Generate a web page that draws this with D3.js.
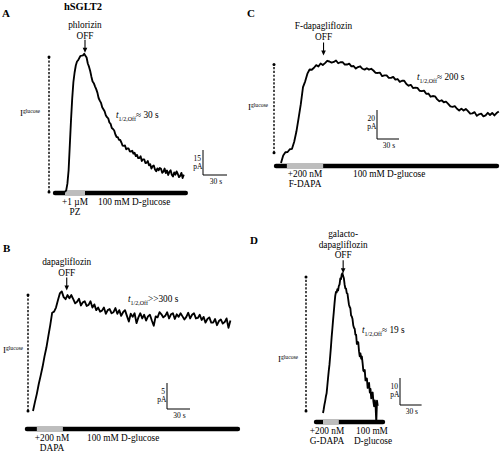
<!DOCTYPE html>
<html><head><meta charset="utf-8">
<script src="https://cdn.jsdelivr.net/npm/d3@7"></script>
<style>
body{margin:0;background:#fff}
svg{display:block}
text{font-family:"Liberation Serif","Times New Roman",serif;fill:#000}
</style>
</head><body>
<svg id="chart" width="500" height="452"></svg>
<script>
// ---------- DATA (current in pA above baseline, sampled every dt seconds) ----------
// Panel A: hSGLT2, phlorizin washout
const dtA = 1.5;
const currentA = [0, 1, 5, 13, 28, 43, 56, 66, 71.7, 75.9,
  78.3, 79.1, 80.5, 81.7, 81.8, 82, 82.9, 81.8, 80.7, 77.1,
  75.2, 72.6, 69.2, 66.3, 65.3, 63.4, 61.7, 59.6, 56.4, 54.8,
  53.5, 50.8, 49.6, 48.4, 46.1, 44.9, 44.2, 41.7, 40.9, 38.4,
  37.8, 36.9, 34.5, 33, 32.9, 31.3, 31.2, 29.7, 27.8, 27.7,
  27.9, 25.6, 26.1, 26.1, 24.4, 24.3, 24.8, 23, 23.5, 21.5,
  22.3, 20.3, 20.4, 21.4, 18.6, 19.6, 19.6, 17.4, 17.5, 18.6,
  16, 16.7, 14.1, 15.4, 15.9, 13.5, 12.4, 14.2, 13, 14.4,
  13.9, 11.5, 12.2, 14.1, 11.4, 12.9, 10.2, 12.1, 13, 10.4,
  9.3, 11.7, 10.4, 12.4, 10.8, 8.9, 9.7, 11.5, 8.4, 10.4];
const barA = [-12.5, 0, 25, 151];      // solution timeline (s): start, drug on, drug off, end
const offA = 25;                       // washout time (s)
const iglucA = [0, 81];                // I glucose span (pA)
const scaleA = [30, 15];               // scale bar: s, pA
const drugA = ["+1 µM", "PZ"];
const offLabelA = ["phlorizin", "OFF"];
const halfA = "≈ 30 s";

// Panel B: dapagliflozin
const dtB = 2.5;
const currentB = [0, 1.7, 3.3, 5.2, 6.8, 8.5, 10.5, 12.2, 14.4, 16.5,
  18.9, 19.1, 19.9, 21.3, 22.6, 23, 21.9, 21.5, 22.3, 21.7,
  22.3, 21.5, 20.7, 21, 21.6, 20.3, 20.9, 21.1, 20.2, 20.4,
  21.1, 19.9, 20.5, 19.4, 19.9, 19.1, 19.3, 19.9, 18.7, 19.4,
  19.6, 18.8, 19, 19.8, 18.7, 19.4, 18.3, 19, 19.4, 18.3,
  17.2, 18.7, 18.1, 18.8, 16.9, 18, 18.8, 17.8, 18.5, 17.4,
  18.2, 18.5, 17.4, 16.4, 18.2, 18, 19, 18.6, 18, 18.3,
  19, 17.8, 18.6, 18.8, 17.7, 18.6, 18.1, 18.8, 18.2, 17.6,
  18.1, 18.9, 17.8, 18.5, 18.8, 17.8, 17.9, 18.5, 17.5, 18.1,
  17, 17.7, 18, 17, 17, 17.7, 16.5, 17.3, 17.6, 16.8,
  17.1, 17.8, 16, 17.4];
const barB = [-7.9, 5, 39, 267.3];
const offB = 44;
const iglucB = [0, 22.3];
const scaleB = [30, 5];
const drugB = ["+200 nM", "DAPA"];
const offLabelB = ["dapagliflozin", "OFF"];
const halfB = ">>300 s";

// Panel C: F-dapagliflozin
const dtC = 3;
const currentC = [0, 5.1, 7.4, 7.6, 9.5, 9.8, 14.7, 21.7, 31, 40.6,
  52.3, 56.3, 61.6, 64.5, 64.3, 65.7, 67.5, 66.5, 68.6, 67.6,
  68.9, 70.5, 70, 69.2, 69.7, 70.7, 68.8, 69.5, 69.5, 67.9,
  67.9, 68.5, 66.6, 66.9, 65.1, 66.2, 66.7, 65, 64.4, 65.4,
  64.4, 65, 63.8, 62.2, 62.1, 62.3, 59.9, 60.4, 60.4, 58.7,
  58.7, 59.4, 57.5, 57.9, 56, 56.7, 56.7, 54.5, 53.3, 53.9,
  51.7, 52, 51.8, 49.8, 49.6, 49.9, 47.7, 47.9, 45.7, 46.2,
  46, 43.9, 42.6, 43.3, 41.9, 42.3, 40.8, 39, 38.7, 39.2,
  37.4, 36.2, 37.5, 36.2, 37.3, 35.8, 34, 34.2, 35.1, 32.5,
  33.6, 34, 32.2, 32.9, 34.6, 33.1, 34.5, 32.8, 34.4, 35.5];
const barC = [-6.8, 8, 57.5, 294.5];
const offC = 58;
const iglucC = [7, 68];
const scaleC = [30, 20];
const drugC = ["+200 nM", "F-DAPA"];
const offLabelC = ["F-dapagliflozin", "OFF"];
const halfC = "≈ 200 s";

// Panel D: galacto-dapagliflozin
const dtD = 1;
const currentD = [0, 1.4, 3.1, 4.4, 6.1, 7.3, 10.1, 12.9, 15.6, 17.9,
  21.1, 24.4, 28.1, 31.2, 34.5, 37.4, 40.6, 43.4, 44.8, 44.7,
  45.9, 45.4, 47.1, 47.6, 49.8, 49.6, 51.3, 51.8, 50.7, 49.9,
  47.6, 46.2, 46.1, 44.4, 44.2, 42.2, 40.2, 39.3, 38.8, 36.1,
  35.7, 34.8, 32.5, 31.6, 31.2, 29, 29, 25.6, 26.3, 26.2,
  22.9, 21, 22.1, 20.1, 20.9, 18.5, 15.7, 15.4, 15.9, 12.1,
  12.8, 12.7, 9.3, 9.6, 11.1, 7.6, 8.9, 5.4, 7.1, 7.6,
  4.2, 2.5, 4.7, 2.8, -3.5, 4.6, 2.6];
const barD = [-9.7, 0, 22, 83.3];
const offD = 28;
const iglucD = [0.7, 50.4];
const scaleD = [30, 10];
const drugD = ["+200 nM", "G-DAPA"];
const offLabelD = ["galacto-", "dapagliflozin", "OFF"];
const halfD = "≈ 19 s";

// ---------- LAYOUT ----------
const FS = 9.3;
const panels = [
  {letter: "A", lx: 2, ly: 17, dt: dtA, cur: currentA, bar: barA, off: offA, igl: iglucA, sc: scaleA,
   drug: drugA, offLab: offLabelA, half: halfA,
   x0: 65, pxs: 0.8, yb: 192, pxi: 25/15, barY: 193, dashX: 49, gap: 1,
   offLabY: 28, drugX: 75, drugY: 205, solX: 98, hx: 116, hy: 118,
   gl: [20, 116], sbX: 203, sbY: 175},
  {letter: "B", lx: 3, ly: 252, dt: dtB, cur: currentB, bar: barB, off: offB, igl: iglucB, sc: scaleB,
   drug: drugB, offLab: offLabelB, half: halfB,
   x0: 33, pxs: 23/30, yb: 411, pxi: 5.2, barY: 429, dashX: 28, gap: 1,
   offLabY: 265, drugX: 52, drugY: 441, solX: 87, hx: 128, hy: 302,
   gl: [3, 353], sbX: 167, sbY: 409},
  {letter: "C", lx: 247, ly: 17, dt: dtC, cur: currentC, bar: barC, off: offC, igl: iglucC, sc: scaleC,
   drug: drugC, offLab: offLabelC, half: halfC,
   x0: 281, pxs: 22/30, yb: 163, pxi: 1.45, barY: 166, dashX: 274, gap: 5,
   offLabY: 29, drugX: 305, drugY: 177, solX: 353, hx: 417, hy: 80,
   gl: [248, 110], sbX: 377, sbY: 139},
  {letter: "D", lx: 250, ly: 244, dt: dtD, cur: currentD, bar: barD, off: offD, igl: iglucD, sc: scaleD,
   drug: drugD, offLab: offLabelD, half: halfD,
   x0: 323, pxs: 0.72, yb: 413, pxi: 2.7, barY: 422, dashX: 306, gap: 0,
   offLabY: 237, drugX: 327, drugY: 434, solX: null, hx: 362, hy: 333,
   gl: [278, 362], sbX: 400, sbY: 405}
];

const svg = d3.select("#chart");

svg.append("text").attr("x", 83).attr("y", 10).attr("text-anchor", "middle")
  .attr("font-size", 10.5).attr("font-weight", "bold").text("hSGLT2");

panels.forEach(p => {
  const g = svg.append("g");
  const tS = d3.scaleLinear().domain([0, p.sc[0]]).range([p.x0, p.x0 + p.sc[0] * p.pxs]);
  const iS = d3.scaleLinear().domain([0, p.sc[1]]).range([p.yb, p.yb - p.sc[1] * p.pxi]);

  // panel letter
  g.append("text").attr("x", p.lx).attr("y", p.ly).attr("font-size", 11)
    .attr("font-weight", "bold").text(p.letter);

  // solution bar
  g.append("line").attr("x1", tS(p.bar[0])).attr("x2", tS(p.bar[3]))
    .attr("y1", p.barY).attr("y2", p.barY)
    .attr("stroke", "#000").attr("stroke-width", 4.4).attr("stroke-linecap", "round");
  g.append("line").attr("x1", tS(p.bar[1])).attr("x2", tS(p.bar[2]))
    .attr("y1", p.barY).attr("y2", p.barY)
    .attr("stroke", "#bdbdbd").attr("stroke-width", 4.4);

  // trace
  const line = d3.line().x((d, i) => tS(i * p.dt)).y(d => iS(d));
  g.append("path").attr("d", line(p.cur)).attr("fill", "none")
    .attr("stroke", "#000").attr("stroke-width", 1.85).attr("stroke-linejoin", "round");

  // I glucose dashed line
  g.append("line").attr("x1", p.dashX).attr("x2", p.dashX)
    .attr("y1", iS(p.igl[0])).attr("y2", iS(p.igl[1]))
    .attr("stroke", "#000").attr("stroke-width", 1.4).attr("stroke-dasharray", "2.2,1.6");
  p.igl.forEach(v => g.append("circle").attr("cx", p.dashX).attr("cy", iS(v)).attr("r", 1.5).attr("fill", "#000"));

  const gl = g.append("text").attr("x", p.gl[0]).attr("y", p.gl[1]).attr("font-size", 9);
  gl.append("tspan").text("I");
  gl.append("tspan").attr("font-size", 5.6).attr("dy", -3).text("glucose");

  // OFF arrow
  const ax = tS(p.off);
  const tip = iS(d3.max(p.cur)) - p.gap;
  g.append("line").attr("x1", ax).attr("x2", ax).attr("y1", tip - 13).attr("y2", tip - 4)
    .attr("stroke", "#000").attr("stroke-width", 1.1);
  g.append("path").attr("d", `M${ax - 2.3},${tip - 5}L${ax + 2.3},${tip - 5}L${ax},${tip}Z`).attr("fill", "#000");

  // OFF labels
  p.offLab.forEach((s, k) => {
    g.append("text").attr("x", ax).attr("y", p.offLabY + k * 10.5).attr("text-anchor", "middle")
      .attr("font-size", FS).text(s);
  });

  // drug labels
  p.drug.forEach((s, k) => {
    g.append("text").attr("x", p.drugX).attr("y", p.drugY + k * 10).attr("text-anchor", "middle")
      .attr("font-size", FS).text(s);
  });
  if (p.solX !== null) {
    g.append("text").attr("x", p.solX).attr("y", p.drugY).attr("font-size", FS).text("100 mM D-glucose");
  } else {
    g.append("text").attr("x", 372).attr("y", p.drugY).attr("text-anchor", "middle").attr("font-size", FS).text("100 mM");
    g.append("text").attr("x", 373).attr("y", p.drugY + 10).attr("text-anchor", "middle").attr("font-size", FS).text("D-glucose");
  }

  // half-time label
  const ht = g.append("text").attr("x", p.hx).attr("y", p.hy).attr("font-size", FS);
  ht.append("tspan").attr("font-style", "italic").text("t");
  ht.append("tspan").attr("font-size", 6).attr("dy", 3).text("1/2,Off");
  ht.append("tspan").attr("dy", -3).text(p.half);

  // scale bars
  const w = tS(p.sc[0]) - tS(0);
  const h = iS(0) - iS(p.sc[1]);
  g.append("path").attr("d", `M${p.sbX},${p.sbY - h}V${p.sbY}H${p.sbX + w}`)
    .attr("fill", "none").attr("stroke", "#000").attr("stroke-width", 1);
  g.append("text").attr("x", p.sbX - 2).attr("y", p.sbY - h + 11).attr("text-anchor", "end")
    .attr("font-size", 7.5).text(p.sc[1]);
  g.append("text").attr("x", p.sbX - 0.5).attr("y", p.sbY - h + 19).attr("text-anchor", "end")
    .attr("font-size", 7.5).text("pA");
  g.append("text").attr("x", p.sbX + w / 2 + 1).attr("y", p.sbY + 8.5).attr("text-anchor", "middle")
    .attr("font-size", 7.5).text(p.sc[0] + " s");
});
</script>
</body></html>
